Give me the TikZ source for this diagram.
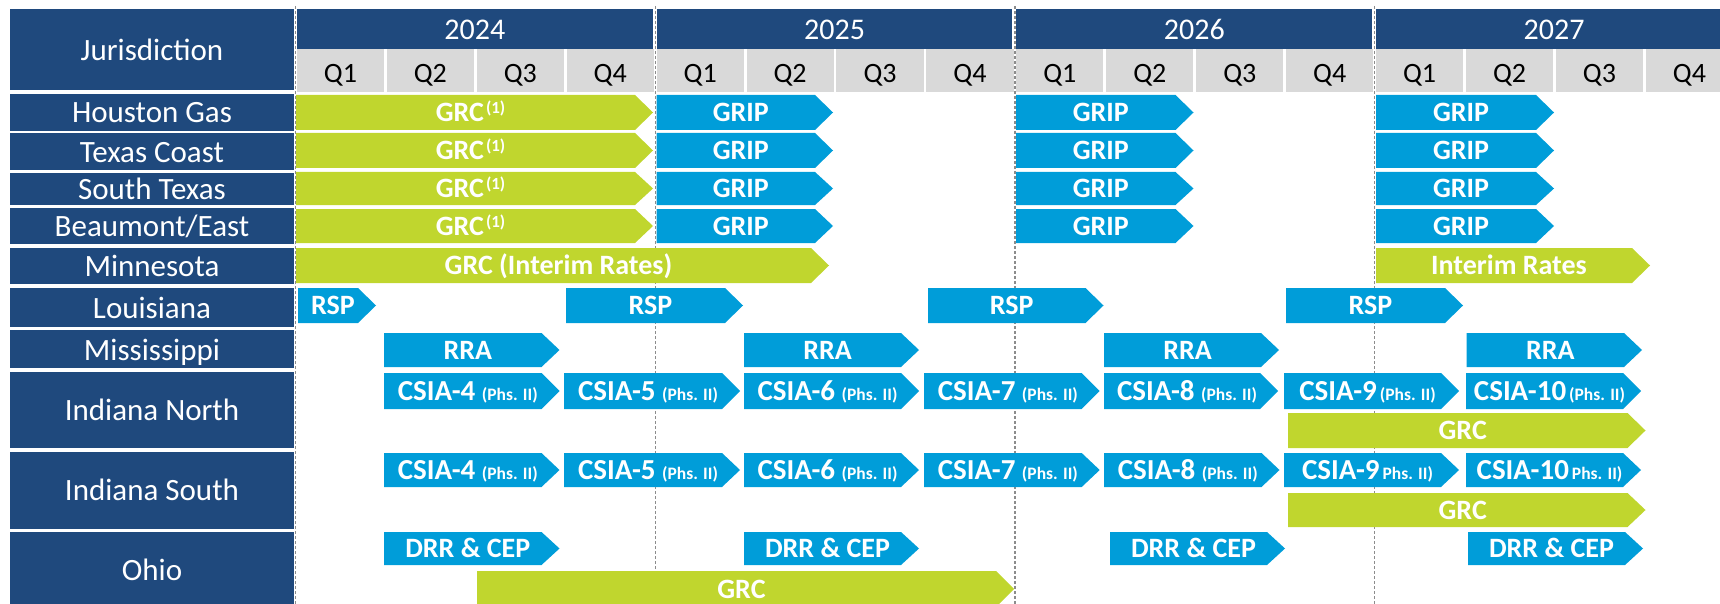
\documentclass[tikz,border=0pt]{standalone}
\usepackage{fontspec}
\setmainfont{Carlito}
\definecolor{navy}{RGB}{31,73,125}
\definecolor{barblue}{RGB}{0,157,217}
\definecolor{bargreen}{RGB}{192,214,46}
\definecolor{qgray}{RGB}{217,217,217}
\definecolor{linegray}{RGB}{140,140,140}
\tikzset{
  labelbox/.style={fill=navy},
  labeltext/.style={text=white, font=\fontsize{31}{31}\selectfont, inner sep=0pt, anchor=base},
  yeartext/.style={text=white, font=\fontsize{30}{30}\selectfont, inner sep=0pt, anchor=base},
  qtext/.style={text=black, font=\fontsize{28}{28}\selectfont, inner sep=0pt, anchor=base},
  bartext/.style={text=white, font=\bfseries\fontsize{28}{28}\selectfont, inner sep=0pt, anchor=base},
  yearline/.style={draw=linegray, line width=1.3pt, dash pattern=on 3pt off 2pt},
}
% name, colour, left, tip, top, bottom, text
\newcommand\chevbar[7]{%
  \fill[#2] (#3,#5) -- ({#4-18},#5) -- (#4,{(#5+#6)/2}) -- ({#4-18},#6) -- (#3,#6) -- cycle;
  \node[bartext] (#1) at ({(#3+#4)/2-4},{(#5+#6)/2+9}) {#7};
}
\newcommand\supone{\kern2pt\raisebox{8pt}{\fontsize{17}{17}\selectfont(1)}}
\newcommand\phs[1]{\fontsize{29}{29}\selectfont #1 {\fontsize{17.5}{17.5}\selectfont(Phs. II)}}
\newcommand\phsb[1]{\fontsize{29}{29}\selectfont #1 {\fontsize{17.5}{17.5}\selectfont Phs. II)}}
\begin{document}
\begin{tikzpicture}[x=1pt,y=-1pt]
\useasboundingbox (0,0) rectangle (1720,604);
\clip (0,0) rectangle (1720,604);
% year boundary lines
\foreach \k in {0,1,2,3} {
  \pgfmathsetmacro\xl{295.5+4*\k*89.93}
  \coordinate (lt\k) at (\xl,6);
  \coordinate (lb\k) at (\xl,604);
  \draw[yearline] (lt\k) -- (lb\k);
}
% header
\fill[labelbox] (10,9) rectangle (294,90);
\node[labeltext] (jur) at (152,61) {Jurisdiction};
\foreach \yr [count=\i from 0] in {2024,2025,2026,2027} {
  \pgfmathsetmacro\xa{295.5+4*\i*89.93+1.5}
  \pgfmathsetmacro\xb{295.5+4*(\i+1)*89.93-2.5}
  \fill[navy] (\xa,9) rectangle (\xb,49);
  \node[yeartext] (y\yr) at ({(\xa+\xb)/2},40) {\yr};
  \foreach \qq in {1,2,3,4} {
    \pgfmathsetmacro\qa{295.5+(4*\i+\qq-1)*89.93+1.4}
    \pgfmathsetmacro\qb{295.5+(4*\i+\qq)*89.93-1.4}
    \fill[qgray] (\qa,49.5) rectangle (\qb,92);
    \node[qtext] (q\yr\qq) at ({(\qa+\qb)/2},83) {Q\qq};
  }
}
% row labels
\fill[labelbox] (10,94) rectangle (294,131);
\node[labeltext] (lhg) at (152,123) {Houston Gas};
\fill[labelbox] (10,133.5) rectangle (294,170);
\node[labeltext] (ltc) at (152,162.5) {Texas Coast};
\fill[labelbox] (10,173) rectangle (294,205);
\node[labeltext] (lst) at (152,200) {South Texas};
\fill[labelbox] (10,208) rectangle (294,244);
\node[labeltext] (lbe) at (152,236.5) {Beaumont/East};
\fill[labelbox] (10,248) rectangle (294,284);
\node[labeltext] (lmn) at (152,276.5) {Minnesota};
\fill[labelbox] (10,288) rectangle (294,327);
\node[labeltext] (lla) at (152,318) {Louisiana};
\fill[labelbox] (10,330) rectangle (294,368);
\node[labeltext] (lms) at (152,360.5) {Mississippi};
\fill[labelbox] (10,372) rectangle (294,448);
\node[labeltext] (lin) at (152,420.5) {Indiana North};
\fill[labelbox] (10,452) rectangle (294,529);
\node[labeltext] (lis) at (152,500.5) {Indiana South};
\fill[labelbox] (10,532) rectangle (294,610);
\node[labeltext] (loh) at (152,580) {Ohio};
% Texas rows
\foreach \rt/\rb/\rn in {95/130/hg,133/168/tc,172/205/st,209/243/be} {
  \chevbar{grc\rn}{bargreen}{296}{653}{\rt}{\rb}{GRC\supone}
  \chevbar{gripa\rn}{barblue}{656.5}{833}{\rt}{\rb}{GRIP}
  \chevbar{gripb\rn}{barblue}{1016}{1193.5}{\rt}{\rb}{GRIP}
  \chevbar{gripc\rn}{barblue}{1376}{1554}{\rt}{\rb}{GRIP}
}
% Minnesota
\chevbar{mna}{bargreen}{296}{829}{248}{283}{GRC (Interim Rates)}
\chevbar{mnb}{bargreen}{1376}{1650}{248}{283}{Interim Rates}
% Louisiana
\chevbar{laa}{barblue}{298}{376}{288}{323}{RSP}
\chevbar{lab}{barblue}{566}{743}{288}{323}{RSP}
\chevbar{lac}{barblue}{928}{1103.5}{288}{323}{RSP}
\chevbar{lad}{barblue}{1286}{1463}{288}{323}{RSP}
% Mississippi
\chevbar{msa}{barblue}{384}{559.5}{333}{367}{RRA}
\chevbar{msb}{barblue}{744}{919}{333}{367}{RRA}
\chevbar{msc}{barblue}{1104}{1279}{333}{367}{RRA}
\chevbar{msd}{barblue}{1466.5}{1642}{333}{367}{RRA}
% Indiana North
\chevbar{ina}{barblue}{384}{559.5}{373}{409}{\phs{CSIA-4}}
\chevbar{inb}{barblue}{564}{740}{373}{409}{\phs{CSIA-5}}
\chevbar{inc}{barblue}{744}{919}{373}{409}{\phs{CSIA-6}}
\chevbar{ind}{barblue}{924}{1099.7}{373}{409}{\phs{CSIA-7}}
\chevbar{ine}{barblue}{1104}{1278}{373}{409}{\phs{CSIA-8}}
\chevbar{inf}{barblue}{1284}{1459}{373}{409}{\phs{CSIA-9\kern3pt}}
\chevbar{ing}{barblue}{1466}{1641}{373}{409}{\phs{CSIA-10\kern3pt}}
\chevbar{ingrc}{bargreen}{1288}{1645.5}{413}{448}{GRC}
% Indiana South
\chevbar{isa}{barblue}{384}{559.5}{453}{487}{\phs{CSIA-4}}
\chevbar{isb}{barblue}{564}{740}{453}{487}{\phs{CSIA-5}}
\chevbar{isc}{barblue}{744}{919}{453}{487}{\phs{CSIA-6}}
\chevbar{isd}{barblue}{924}{1099.7}{453}{487}{\phs{CSIA-7}}
\chevbar{ise}{barblue}{1104}{1279.5}{453}{487}{\phs{CSIA-8}}
\chevbar{isf}{barblue}{1284}{1459}{453}{487}{\phsb{CSIA-9\kern3pt}}
\chevbar{isg}{barblue}{1466}{1641}{453}{487}{\phsb{CSIA-10\kern3pt}}
\chevbar{isgrc}{bargreen}{1288}{1645.5}{493}{527}{GRC}
% Ohio
\chevbar{oha}{barblue}{384}{559.5}{532}{565}{DRR \& CEP}
\chevbar{ohb}{barblue}{744}{919}{532}{565}{DRR \& CEP}
\chevbar{ohc}{barblue}{1110}{1285}{532}{565}{DRR \& CEP}
\chevbar{ohd}{barblue}{1468}{1643}{532}{565}{DRR \& CEP}
\chevbar{ohgrc}{bargreen}{477}{1014}{571}{607}{GRC}
\end{tikzpicture}
\end{document}
